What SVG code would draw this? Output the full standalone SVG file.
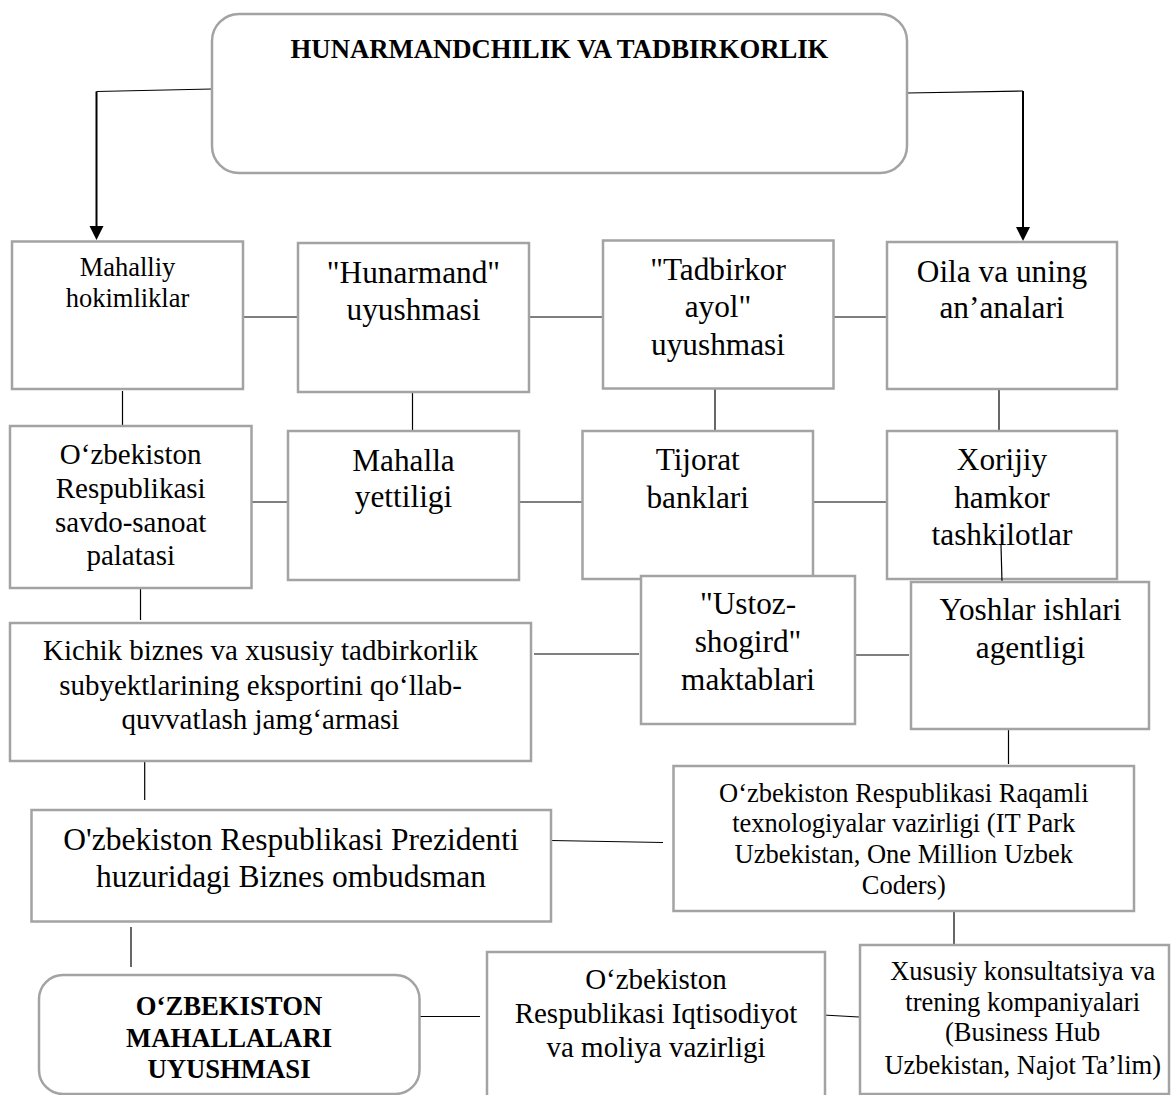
<svg xmlns="http://www.w3.org/2000/svg" width="1176" height="1095" viewBox="0 0 1176 1095">
<defs>
<style>
.box{fill:#fff;stroke:#a3a3a3;stroke-width:2.5}
.t{font-family:"Liberation Serif","Times New Roman",serif;fill:#000;text-anchor:middle}
.b{font-weight:bold}
.ln{stroke:#000;stroke-width:1.2;fill:none}
.ar{stroke:#000;stroke-width:2;fill:none}
</style>
</defs>
<rect width="1176" height="1095" fill="#fff"/>

<g id="connectors">
<polyline class="ln" points="212,89 96.5,91.5"/>
<line class="ar" x1="96.5" y1="91.5" x2="96.5" y2="226"/>
<path d="M89.5,226 L103.5,226 L96.5,240 Z" fill="#000"/>
<polyline class="ln" points="907,93 1023,91"/>
<line class="ar" x1="1023" y1="91" x2="1023" y2="227"/>
<path d="M1016,227 L1030,227 L1023,241 Z" fill="#000"/>

<line class="ln" x1="243" y1="317" x2="298" y2="317"/>
<line class="ln" x1="529" y1="317" x2="603" y2="317"/>
<line class="ln" x1="833" y1="317" x2="887" y2="317"/>

<line class="ln" x1="122.5" y1="391" x2="122.5" y2="431"/>
<line class="ln" x1="412.5" y1="392" x2="412.5" y2="431"/>
<line class="ln" x1="715" y1="389" x2="715" y2="431"/>
<line class="ln" x1="999" y1="390" x2="999" y2="430"/>

<line class="ln" x1="251.5" y1="502" x2="288" y2="502"/>
<line class="ln" x1="519" y1="502" x2="582.5" y2="502"/>
<line class="ln" x1="813" y1="502" x2="887" y2="502"/>

<line class="ln" x1="140.5" y1="580" x2="140.5" y2="620"/>
<line class="ln" x1="534" y1="654" x2="639" y2="654"/>
<line class="ln" x1="854" y1="655" x2="909" y2="655"/>
<line class="ln" x1="144.7" y1="761" x2="144.7" y2="800"/>
<line class="ln" x1="1008.5" y1="730" x2="1008.5" y2="764"/>
<line class="ln" x1="551" y1="840.5" x2="663" y2="842.5"/>
<line class="ln" x1="954" y1="911" x2="954" y2="950"/>
<line class="ln" x1="131" y1="927" x2="131" y2="967"/>
<line class="ln" x1="417" y1="1016.5" x2="480" y2="1016.5"/>
<line class="ln" x1="823" y1="1015" x2="859" y2="1017"/>
</g>

<g id="n-top">
<rect class="box" x="212" y="14" width="695" height="159" rx="27"/>
<text class="t b" x="559.5" y="58" font-size="26.7">HUNARMANDCHILIK VA TADBIRKORLIK</text>
</g>

<g id="n-mahalliy">
<rect class="box" x="12" y="241.5" width="231" height="147.5"/>
<text class="t" x="127.5" y="276" font-size="26.5">Mahalliy</text>
<text class="t" x="127.5" y="307" font-size="26.5">hokimliklar</text>
</g>

<g id="n-hunarmand">
<rect class="box" x="298" y="243" width="231" height="149"/>
<text class="t" x="413.5" y="283" font-size="31.3">"Hunarmand"</text>
<text class="t" x="413.5" y="320" font-size="31.3">uyushmasi</text>
</g>

<g id="n-tadbirkor">
<rect class="box" x="603" y="240.5" width="230.5" height="148"/>
<text class="t" x="718" y="280" font-size="31.3">"Tadbirkor</text>
<text class="t" x="718" y="317" font-size="31.3">ayol"</text>
<text class="t" x="718" y="355" font-size="31.3">uyushmasi</text>
</g>

<g id="n-oila">
<rect class="box" x="887" y="242" width="230" height="147"/>
<text class="t" x="1002" y="281.5" font-size="31.3">Oila va uning</text>
<text class="t" x="1002" y="318" font-size="31.3">an’analari</text>
</g>

<g id="n-savdo">
<rect class="box" x="10" y="426" width="241.5" height="162"/>
<text class="t" x="130.7" y="463.5" font-size="29">O‘zbekiston</text>
<text class="t" x="130.7" y="497.5" font-size="29">Respublikasi</text>
<text class="t" x="130.7" y="531.5" font-size="29">savdo-sanoat</text>
<text class="t" x="130.7" y="565" font-size="29">palatasi</text>
</g>

<g id="n-mahalla">
<rect class="box" x="288" y="431" width="231" height="149"/>
<text class="t" x="403.5" y="470.5" font-size="31.3">Mahalla</text>
<text class="t" x="403.5" y="507" font-size="31.3">yettiligi</text>
</g>

<g id="n-tijorat">
<rect class="box" x="582.5" y="431" width="230.5" height="148"/>
<text class="t" x="697.7" y="470" font-size="31.3">Tijorat</text>
<text class="t" x="697.7" y="508" font-size="31.3">banklari</text>
</g>

<g id="n-xorijiy">
<rect class="box" x="887" y="431" width="230" height="148"/>
<text class="t" x="1002" y="470" font-size="31.3">Xorijiy</text>
<text class="t" x="1002" y="508" font-size="31.3">hamkor</text>
<text class="t" x="1002" y="545" font-size="31.3">tashkilotlar</text>
<line class="ln" x1="1001" y1="545" x2="1002" y2="582"/>
</g>

<g id="n-ustoz">
<rect class="box" x="641" y="576" width="214" height="148"/>
<text class="t" x="748" y="613.5" font-size="31.3">"Ustoz-</text>
<text class="t" x="748" y="651.5" font-size="31.3">shogird"</text>
<text class="t" x="748" y="690" font-size="31.3">maktablari</text>
</g>

<g id="n-yoshlar">
<rect class="box" x="911" y="582" width="238" height="147"/>
<text class="t" x="1030.5" y="620" font-size="31.3">Yoshlar ishlari</text>
<text class="t" x="1030.5" y="658" font-size="31.3">agentligi</text>
</g>

<g id="n-kichik">
<rect class="box" x="10" y="623" width="521" height="138"/>
<text class="t" x="260.5" y="660" font-size="29">Kichik biznes va xususiy tadbirkorlik</text>
<text class="t" x="260.5" y="695" font-size="29">subyektlarining eksportini qo‘llab-</text>
<text class="t" x="260.5" y="728.5" font-size="29">quvvatlash jamg‘armasi</text>
</g>

<g id="n-ombudsman">
<rect class="box" x="31.5" y="810" width="519.5" height="111.5"/>
<text class="t" x="291" y="850" font-size="31.5">O'zbekiston Respublikasi Prezidenti</text>
<text class="t" x="291" y="886.5" font-size="31.5">huzuridagi Biznes ombudsman</text>
</g>

<g id="n-raqamli">
<rect class="box" x="673.5" y="766" width="460.5" height="145"/>
<text class="t" x="903.8" y="801.5" font-size="26.5">O‘zbekiston Respublikasi Raqamli</text>
<text class="t" x="903.8" y="832" font-size="26.5">texnologiyalar vazirligi (IT Park</text>
<text class="t" x="903.8" y="863" font-size="26.5">Uzbekistan, One Million Uzbek</text>
<text class="t" x="903.8" y="893.5" font-size="26.5">Coders)</text>
</g>

<g id="n-xususiy">
<rect class="box" x="860" y="945" width="309" height="149"/>
<text class="t" x="1022.7" y="980" font-size="26.5">Xususiy konsultatsiya va</text>
<text class="t" x="1022.7" y="1010.5" font-size="26.5">trening kompaniyalari</text>
<text class="t" x="1022.7" y="1041" font-size="26.5">(Business Hub</text>
<text class="t" x="1022.7" y="1073.5" font-size="26.5">Uzbekistan, Najot Ta’lim)</text>
</g>

<g id="n-iqtisodiyot">
<rect class="box" x="487" y="952" width="338" height="160"/>
<text class="t" x="656" y="989" font-size="29">O‘zbekiston</text>
<text class="t" x="656" y="1023" font-size="29">Respublikasi Iqtisodiyot</text>
<text class="t" x="656" y="1057" font-size="29">va moliya vazirligi</text>
</g>

<g id="n-mahallalar">
<rect class="box" x="39" y="975" width="380.5" height="119" rx="24"/>
<text class="t b" x="229" y="1015" font-size="26.7">O‘ZBEKISTON</text>
<text class="t b" x="229" y="1046.5" font-size="26.7">MAHALLALARI</text>
<text class="t b" x="229" y="1078" font-size="26.7">UYUSHMASI</text>
</g>
</svg>
